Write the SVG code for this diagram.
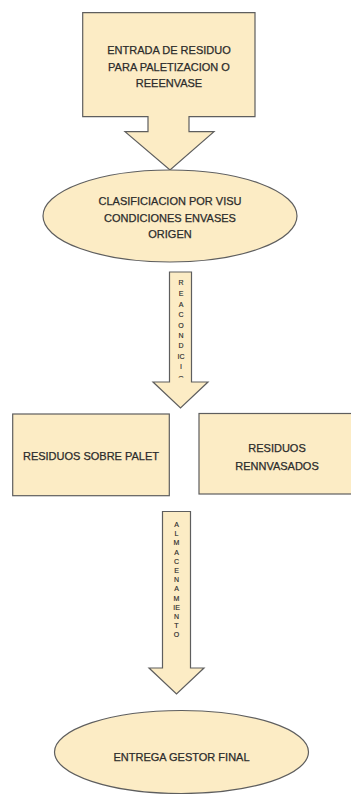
<svg xmlns="http://www.w3.org/2000/svg" width="351" height="794" viewBox="0 0 351 794">
  <style>
    .shape { fill: #FCECC5; stroke: #5E5E5E; stroke-width: 1.2; }
    .lbl { font-family: "Liberation Sans", Arial, sans-serif; font-size: 11px; fill: #2B2B2B; stroke: #2B2B2B; stroke-width: 0.25; text-anchor: middle; }
    .vl { font-family: "Liberation Sans", Arial, sans-serif; font-size: 7px; fill: #2B2B2B; stroke: #2B2B2B; stroke-width: 0.15; text-anchor: middle; }
  </style>
  <defs>
    <clipPath id="clipReac">
      <rect x="160" y="270" width="40" height="107.5"/>
    </clipPath>
  </defs>
  <rect width="351" height="794" fill="#FFFFFF"/>

  <!-- entry box with downward callout arrow -->
  <g id="entrada">
    <path class="shape" d="M82.7,12.7 H255 V116.7 H189 V131.7 H214 L170,170 L125,131.7 H148 V116.7 H82.7 Z"/>
    <text class="lbl" x="169" y="54">ENTRADA DE RESIDUO</text>
    <text class="lbl" x="169" y="70.5">PARA PALETIZACION O</text>
    <text class="lbl" x="169" y="86.5">REEENVASE</text>
  </g>

  <g id="clasificacion">
    <ellipse class="shape" cx="170" cy="216" rx="127" ry="46"/>
    <text class="lbl" x="170" y="205">CLASIFICIACION POR VISU</text>
    <text class="lbl" x="170" y="221.5">CONDICIONES ENVASES</text>
    <text class="lbl" x="170" y="238">ORIGEN</text>
  </g>

  <g id="connectors">
    <g id="reacondicionamiento">
      <path class="shape" d="M169.5,272 H191.5 V382 H208 L180.5,408 L153,382 H169.5 Z"/>
      <g clip-path="url(#clipReac)">
        <text class="vl" x="181" y="284.5">R</text>
        <text class="vl" x="181" y="296.3">E</text>
        <text class="vl" x="181" y="307">A</text>
        <text class="vl" x="181" y="317.3">C</text>
        <text class="vl" x="181" y="328">O</text>
        <text class="vl" x="181" y="337.5">N</text>
        <text class="vl" x="181" y="347.5">D</text>
        <text class="vl" x="181" y="359.3">IC</text>
        <text class="vl" x="181" y="369.3">I</text>
        <text class="vl" x="181" y="380.5">O</text>
      </g>
    </g>
    <g id="almacenamiento">
      <path class="shape" d="M162.5,511.5 H190.5 V668 H204 L176.5,694 L149,668 H162.5 Z"/>
      <text class="vl" x="176.5" y="527">A</text>
      <text class="vl" x="176.5" y="536.2">L</text>
      <text class="vl" x="176.5" y="545.4">M</text>
      <text class="vl" x="176.5" y="554.6">A</text>
      <text class="vl" x="176.5" y="563.8">C</text>
      <text class="vl" x="176.5" y="573">E</text>
      <text class="vl" x="176.5" y="582.2">N</text>
      <text class="vl" x="176.5" y="591.4">A</text>
      <text class="vl" x="176.5" y="600.6">M</text>
      <text class="vl" x="176.5" y="609.8">IE</text>
      <text class="vl" x="176.5" y="619">N</text>
      <text class="vl" x="176.5" y="628.2">T</text>
      <text class="vl" x="176.5" y="637.4">O</text>
    </g>
  </g>

  <g id="palet">
    <rect class="shape" x="12.7" y="414" width="156.6" height="81.7"/>
    <text class="lbl" x="91" y="460">RESIDUOS SOBRE PALET</text>
  </g>

  <g id="reenvasados">
    <rect class="shape" x="199" y="413.5" width="156" height="80.5"/>
    <text class="lbl" x="277" y="452">RESIDUOS</text>
    <text class="lbl" x="277" y="470">RENNVASADOS</text>
  </g>

  <g id="entrega">
    <ellipse class="shape" cx="181.5" cy="752" rx="127" ry="41.5"/>
    <text class="lbl" x="181.5" y="760.5">ENTREGA GESTOR FINAL</text>
  </g>
</svg>
